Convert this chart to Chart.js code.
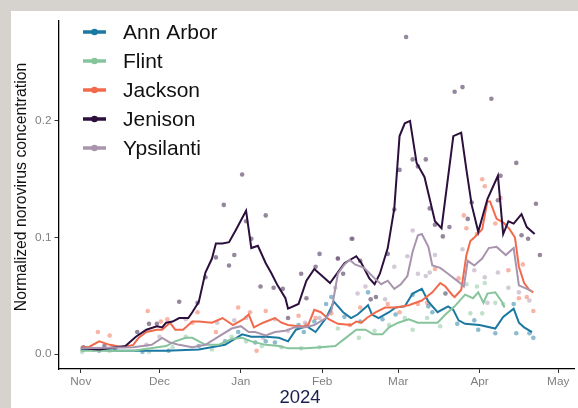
<!DOCTYPE html>
<html>
<head>
<meta charset="utf-8">
<title>Norovirus concentration by site</title>
<script src="https://cdn.jsdelivr.net/npm/chart.js@4.4.1/dist/chart.umd.min.js"></script>
<style>
  html, body { margin: 0; padding: 0; }
  body { width: 578px; height: 408px; background: #d6d3ce; position: relative; overflow: hidden; }
  #panel { position: absolute; left: 11px; top: 11px; width: 567px; height: 397px; background: #fff; }
  canvas { display: block; }
</style>
</head>
<body>
<div id="panel"><canvas id="chart" width="567" height="397"></canvas></div>
<script>
  // x values are days since 1 Nov 2023
  var siteNames = ['Ann Arbor', 'Flint', 'Jackson', 'Jenison', 'Ypsilanti'];
  var monthDays = [0, 30, 61, 92, 121, 152, 182];
  var monthLabels = ['Nov', 'Dec', 'Jan', 'Feb', 'Mar', 'Apr', 'May'];
  var yTicks = [0, 0.1, 0.2];

  // smoothed lines
  var annArborLineDays = [0, 15, 32.5, 45, 55, 61.5, 65, 70.5, 75.5, 79, 82, 86, 89.5, 93.5, 96.5, 100, 103, 105.5, 109.5, 111, 113.5, 117.5, 120, 123.5, 126.5, 130, 132.5, 136, 140, 142, 144, 146.5, 152, 158, 161, 165, 167, 169, 172];
  var annArborLineVals = [0.004, 0.003, 0.003, 0.004, 0.008, 0.017, 0.015, 0.015, 0.014, 0.011, 0.021, 0.024, 0.019, 0.031, 0.045, 0.036, 0.031, 0.034, 0.042, 0.034, 0.031, 0.036, 0.040, 0.041, 0.052, 0.056, 0.045, 0.036, 0.041, 0.038, 0.029, 0.026, 0.025, 0.022, 0.032, 0.039, 0.027, 0.023, 0.019];

  var flintLineDays = [0, 20, 32.5, 36, 40, 42.5, 47.5, 52.5, 57.5, 61.5, 65, 70.5, 75.5, 79, 86, 91.5, 97, 101, 105, 108.5, 111.5, 115, 117.5, 121, 125, 128.5, 136, 139, 142.5, 146.5, 149.5, 151.5, 153.5, 155, 158, 160.5, 161.5];
  var flintLineVals = [0.003, 0.003, 0.007, 0.011, 0.014, 0.014, 0.008, 0.008, 0.013, 0.014, 0.011, 0.008, 0.007, 0.005, 0.005, 0.006, 0.007, 0.014, 0.021, 0.021, 0.017, 0.017, 0.023, 0.027, 0.030, 0.027, 0.027, 0.034, 0.041, 0.051, 0.048, 0.053, 0.044, 0.052, 0.053, 0.045, 0.040];

  var jacksonLineDays = [0, 3, 7, 11, 16, 20, 22, 25, 29, 31, 34, 36, 39, 41, 42.5, 45, 50, 54, 58, 62, 64, 66, 69.5, 74, 76.5, 79, 83, 86.5, 89, 91.5, 94.5, 98, 103, 105, 107, 109, 112.5, 116, 120, 125, 130, 134, 137, 139, 141.5, 142.5, 145, 147, 148.5, 150, 153, 155, 156, 158.5, 161, 163.5, 165.5, 167, 169, 171, 172.5];
  var jacksonLineVals = [0.006, 0.006, 0.011, 0.008, 0.006, 0.008, 0.014, 0.019, 0.021, 0.021, 0.027, 0.021, 0.021, 0.025, 0.028, 0.028, 0.027, 0.031, 0.025, 0.030, 0.034, 0.023, 0.027, 0.031, 0.027, 0.025, 0.024, 0.024, 0.038, 0.036, 0.030, 0.026, 0.025, 0.028, 0.027, 0.031, 0.036, 0.040, 0.040, 0.042, 0.046, 0.053, 0.061, 0.058, 0.051, 0.049, 0.055, 0.085, 0.097, 0.100, 0.107, 0.131, 0.131, 0.116, 0.113, 0.107, 0.100, 0.075, 0.061, 0.055, 0.053];

  var jenisonLineDays = [0, 7, 17, 21, 25, 29, 31, 32.5, 35, 37.5, 41, 42.5, 45, 47.5, 50, 51.5, 54, 56.5, 59, 63, 65, 67.5, 70.5, 72.5, 75, 78, 79, 83, 86, 89, 92, 95, 100.5, 105, 107, 110, 112, 114, 117, 119.5, 121.5, 123.5, 125.5, 128, 131, 133, 135, 137.5, 142, 145, 147, 149, 151.5, 155, 159, 161, 163, 165, 168, 170, 173];
  var jenisonLineVals = [0.005, 0.004, 0.007, 0.015, 0.021, 0.024, 0.023, 0.027, 0.028, 0.031, 0.031, 0.036, 0.045, 0.070, 0.082, 0.095, 0.095, 0.096, 0.106, 0.123, 0.091, 0.093, 0.078, 0.070, 0.059, 0.048, 0.039, 0.043, 0.063, 0.073, 0.067, 0.061, 0.078, 0.084, 0.078, 0.065, 0.060, 0.069, 0.091, 0.125, 0.187, 0.198, 0.200, 0.164, 0.152, 0.133, 0.114, 0.108, 0.187, 0.190, 0.158, 0.128, 0.105, 0.133, 0.153, 0.103, 0.114, 0.112, 0.120, 0.109, 0.103];

  var ypsilantiLineDays = [0, 20, 27, 31, 34, 37.5, 42.5, 47.5, 52.5, 57.5, 61, 64, 66.5, 70.5, 74, 78, 81.5, 85.5, 89, 93.5, 95.5, 98, 100.5, 102.5, 104.5, 108, 112, 114.5, 117, 119.5, 122, 124.5, 126.5, 128.5, 130, 132.5, 134, 137, 140, 144, 146, 147.5, 150, 153, 155.5, 158.5, 162, 165, 167, 172];
  var ypsilantiLineVals = [0.005, 0.006, 0.008, 0.014, 0.010, 0.008, 0.006, 0.008, 0.015, 0.022, 0.024, 0.019, 0.019, 0.016, 0.019, 0.020, 0.023, 0.023, 0.025, 0.031, 0.037, 0.069, 0.077, 0.081, 0.077, 0.074, 0.065, 0.060, 0.063, 0.056, 0.060, 0.067, 0.088, 0.102, 0.103, 0.092, 0.076, 0.074, 0.069, 0.062, 0.058, 0.080, 0.076, 0.082, 0.091, 0.092, 0.085, 0.091, 0.059, 0.054];

  // raw samples
  var annArborDotDays = [2, 7, 23.5, 33.5, 45, 55, 60, 66.5, 70.5, 74, 83, 85, 89, 93.5, 95.5, 100.5, 106.5, 109.5, 115, 120, 126.5, 132.5, 134, 139, 143.5, 150, 151.5, 158, 165, 166, 171, 172.5];
  var annArborDotVals = [0.005, 0.003, 0.002, 0.003, 0.007, 0.011, 0.019, 0.010, 0.011, 0.010, 0.025, 0.019, 0.028, 0.043, 0.049, 0.032, 0.028, 0.053, 0.030, 0.034, 0.051, 0.041, 0.036, 0.052, 0.026, 0.029, 0.021, 0.018, 0.043, 0.018, 0.018, 0.014];

  var flintDotDays = [0.5, 11, 26, 35, 40, 50, 57.5, 63, 69, 76.5, 84, 91, 98, 106, 112, 117.5, 123.5, 126.5, 132, 137, 147, 148.5, 151, 153, 154, 158, 161];
  var flintDotVals = [0.002, 0.003, 0.002, 0.006, 0.015, 0.004, 0.015, 0.011, 0.007, 0.006, 0.005, 0.006, 0.022, 0.014, 0.020, 0.025, 0.031, 0.021, 0.031, 0.024, 0.060, 0.035, 0.058, 0.035, 0.061, 0.044, 0.043];

  var jacksonDotDays = [1, 6.5, 11, 25.5, 30.5, 33, 42.5, 44.5, 51.5, 60, 64.5, 67, 70.5, 83, 86, 89.5, 95.5, 102.5, 106.5, 117, 121.5, 128.5, 132, 135, 139, 144, 146, 147, 151, 153, 154, 158, 160, 163, 167, 168.5, 170, 172.5];
  var jacksonDotVals = [0.004, 0.019, 0.016, 0.037, 0.028, 0.030, 0.027, 0.036, 0.019, 0.040, 0.036, 0.003, 0.037, 0.033, 0.025, 0.031, 0.035, 0.025, 0.040, 0.043, 0.036, 0.043, 0.044, 0.073, 0.052, 0.065, 0.119, 0.108, 0.103, 0.150, 0.144, 0.112, 0.134, 0.072, 0.048, 0.077, 0.049, 0.037];

  var jenisonDotDays = [1, 5, 9, 13, 21.5, 26, 29, 37.5, 44.5, 47.5, 51.5, 54.5, 56.5, 58.5, 61.5, 63, 65, 68.5, 70.5, 73.5, 77, 79, 84, 86, 89.5, 91, 98, 100, 103.5, 106.5, 110.5, 112.5, 117, 119.5, 121.5, 124, 126.5, 128.5, 131.5, 133, 135, 138, 140.5, 142.5, 145.5, 147.5, 149, 156.5, 159, 160, 166, 168, 170.5, 173.5, 175];
  var jenisonDotVals = [0.006, 0.004, 0.007, 0.005, 0.019, 0.026, 0.026, 0.045, 0.044, 0.066, 0.083, 0.128, 0.076, 0.085, 0.154, 0.114, 0.099, 0.058, 0.119, 0.057, 0.056, 0.031, 0.069, 0.048, 0.075, 0.086, 0.082, 0.069, 0.099, 0.080, 0.047, 0.049, 0.086, 0.124, 0.158, 0.272, 0.167, 0.161, 0.167, 0.125, 0.111, 0.101, 0.109, 0.225, 0.229, 0.116, 0.130, 0.219, 0.132, 0.153, 0.164, 0.102, 0.099, 0.129, 0.085];

  var ypsilantiDotDays = [3, 12, 25, 30, 40, 52, 58.5, 63, 69.5, 74, 79, 85.5, 91, 97, 98, 103, 105.5, 108.5, 116, 119.5, 124.5, 126.5, 128.5, 131.5, 133, 135, 145.5, 150, 154, 155, 159, 163, 167, 171];
  var ypsilantiDotVals = [0.005, 0.007, 0.008, 0.015, 0.030, 0.027, 0.029, 0.031, 0.014, 0.030, 0.020, 0.027, 0.031, 0.057, 0.082, 0.099, 0.052, 0.058, 0.047, 0.075, 0.084, 0.106, 0.069, 0.067, 0.070, 0.085, 0.090, 0.072, 0.066, 0.044, 0.070, 0.057, 0.053, 0.046];

  var siteColors = ['#1b78a0', '#86c49c', '#f26a4b', '#2c0f3c', '#a994ae'];
  var FONT = '"Liberation Sans", Arial, Helvetica, sans-serif';

  /** Zip two arrays into {x, y} points */
  function pts(xs, ys) {
    return xs.map(function (x, i) { return { x: x, y: ys[i] }; });
  }

  /** Hex colour to rgba */
  function alpha(hex, a) {
    var n = parseInt(hex.slice(1), 16);
    return 'rgba(' + (n >> 16) + ',' + ((n >> 8) & 255) + ',' + (n & 255) + ',' + a + ')';
  }

  var lines = [
    [annArborLineDays, annArborLineVals],
    [flintLineDays, flintLineVals],
    [jacksonLineDays, jacksonLineVals],
    [jenisonLineDays, jenisonLineVals],
    [ypsilantiLineDays, ypsilantiLineVals]
  ];
  var dots = [
    [annArborDotDays, annArborDotVals],
    [flintDotDays, flintDotVals],
    [jacksonDotDays, jacksonDotVals],
    [jenisonDotDays, jenisonDotVals],
    [ypsilantiDotDays, ypsilantiDotVals]
  ];

  var datasets = [];
  siteNames.forEach(function (name, i) {
    datasets.push({
      type: 'scatter',
      label: name + ' samples',
      data: pts(dots[i][0], dots[i][1]),
      backgroundColor: alpha(siteColors[i], 0.5),
      borderWidth: 0,
      pointRadius: 2.3,
      order: 20 + i
    });
    datasets.push({
      type: 'line',
      label: name,
      data: pts(lines[i][0], lines[i][1]),
      borderColor: siteColors[i],
      borderWidth: 2,
      pointRadius: 0,
      tension: 0,
      fill: false,
      order: 10 - i
    });
  });

  // legend + axis titles, ggplot style
  var overlay = {
    id: 'overlay',
    afterDraw: function (chart) {
      var ctx = chart.ctx;
      ctx.save();
      siteNames.forEach(function (name, i) {
        var y = 21 + i * 29;
        ctx.strokeStyle = siteColors[i];
        ctx.lineWidth = 3.5;
        ctx.beginPath();
        ctx.moveTo(72, y);
        ctx.lineTo(95, y);
        ctx.stroke();
        ctx.fillStyle = siteColors[i];
        ctx.beginPath();
        ctx.arc(83.5, y, 3.3, 0, Math.PI * 2);
        ctx.fill();
        ctx.fillStyle = '#111';
        ctx.font = '21px ' + FONT;
        ctx.textAlign = 'left';
        ctx.textBaseline = 'middle';
        ctx.fillText(name, 112, y + 1);
      });

      ctx.fillStyle = '#1c1f4f';
      ctx.font = '18.5px ' + FONT;
      ctx.textAlign = 'center';
      ctx.textBaseline = 'middle';
      ctx.fillText('2024', 289, 387);

      ctx.translate(11, 176);
      ctx.rotate(-Math.PI / 2);
      ctx.fillStyle = '#111';
      ctx.font = '15.8px ' + FONT;
      ctx.fillText('Normalized norovirus concentration', 0, 0);
      ctx.restore();
    }
  };

  new Chart(document.getElementById('chart'), {
    data: { datasets: datasets },
    plugins: [overlay],
    options: {
      responsive: false,
      devicePixelRatio: 1,
      animation: false,
      layout: { padding: { top: 6, right: 0, bottom: 0, left: 0 } },
      plugins: { legend: { display: false }, tooltip: { enabled: false } },
      scales: {
        x: {
          type: 'linear',
          min: -8.5,
          max: 188,
          afterBuildTicks: function (s) {
            s.ticks = monthDays.map(function (v) { return { value: v }; });
          },
          afterFit: function (s) { s.height = 39; },
          grid: { display: true, drawOnChartArea: false, drawTicks: true, tickLength: 4, color: '#333' },
          border: { display: true, color: '#000', width: 1.3 },
          ticks: {
            color: '#7f7f7f',
            font: { size: 11.8, family: FONT },
            padding: 2,
            maxRotation: 0,
            autoSkip: false,
            callback: function (v) { return monthLabels[monthDays.indexOf(v)]; }
          }
        },
        y: {
          type: 'linear',
          min: -0.0127,
          max: 0.2856,
          afterBuildTicks: function (s) {
            s.ticks = yTicks.map(function (v) { return { value: v }; });
          },
          afterFit: function (s) { s.width = 47.5; },
          grid: { display: true, drawOnChartArea: false, drawTicks: true, tickLength: 4, color: '#333' },
          border: { display: true, color: '#000', width: 1.3 },
          ticks: {
            color: '#7f7f7f',
            font: { size: 11.8, family: FONT },
            padding: 3,
            callback: function (v) { return v.toFixed(1); }
          }
        }
      }
    }
  });
</script>
</body>
</html>
